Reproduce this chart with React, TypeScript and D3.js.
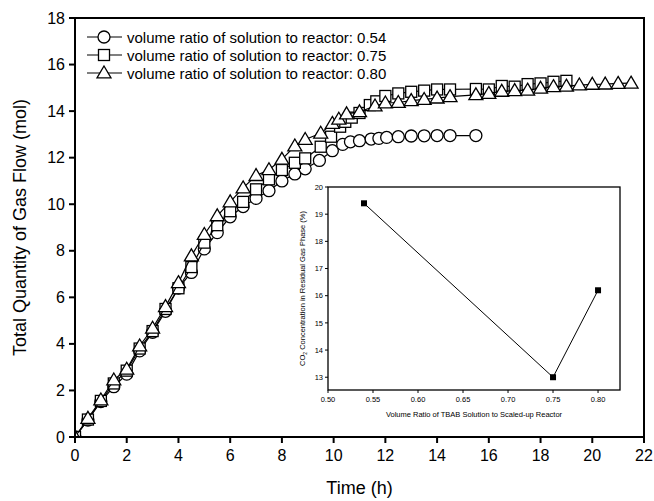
import React from "react";
import * as d3 from "d3";

// Series 0.54 (circles)
const tA = [0, 0.5, 1, 1.5, 2, 2.5, 3, 3.5, 4, 4.5, 5, 5.5, 6, 6.5, 7, 7.5, 8, 8.5, 8.9, 9.45, 9.95, 10.35, 10.65, 11.0, 11.45, 11.75, 12.05, 12.5, 13.0, 13.5, 14.0, 14.5, 15.5];
const vA = [0, 0.73, 1.52, 2.16, 2.7, 3.7, 4.5, 5.4, 6.4, 7.07, 8.08, 8.78, 9.46, 9.9, 10.25, 10.58, 11.0, 11.3, 11.52, 11.88, 12.3, 12.57, 12.68, 12.73, 12.8, 12.83, 12.87, 12.9, 12.93, 12.94, 12.95, 12.95, 12.95];

// Series 0.75 (squares)
const tB = [0, 0.5, 1, 1.5, 2, 2.5, 3, 3.5, 4, 4.5, 5, 5.5, 6, 6.5, 7, 7.5, 8, 8.5, 8.9, 9.5, 9.9, 10.25, 10.45, 10.7, 11.0, 11.4, 11.65, 12.0, 12.5, 13.0, 13.5, 14.0, 14.5, 15.5, 16.0, 16.5, 17.0, 17.5, 18.0, 18.5, 19.0];
const vB = [0, 0.75, 1.55, 2.3, 2.85, 3.8, 4.55, 5.5, 6.39, 7.3, 8.35, 9.1, 9.7, 10.1, 10.64, 11.07, 11.47, 11.78, 11.97, 12.47, 12.9, 13.33, 13.54, 13.72, 13.92, 14.26, 14.42, 14.65, 14.76, 14.83, 14.88, 14.93, 14.93, 14.95, 14.93, 15.08, 15.05, 15.16, 15.19, 15.26, 15.3];

// Series 0.80 (triangles)
const tC = [0, 0.5, 1, 1.5, 2, 2.5, 3, 3.5, 4, 4.5, 5, 5.5, 6, 6.5, 7, 7.5, 8, 8.5, 8.9, 9.5, 9.95, 10.2, 10.5, 11.0, 11.6, 12.0, 12.5, 13.0, 13.5, 14.0, 14.5, 15.5, 16.0, 16.5, 17.0, 17.5, 18.0, 18.5, 19.0, 19.5, 20.0, 20.5, 21.0, 21.5];
const vC = [0, 0.8, 1.59, 2.45, 2.91, 3.91, 4.67, 5.6, 6.63, 7.78, 8.7, 9.5, 10.1, 10.7, 11.23, 11.48, 11.93, 12.5, 12.78, 13.05, 13.47, 13.65, 13.88, 13.97, 14.22, 14.35, 14.37, 14.45, 14.5, 14.56, 14.62, 14.7, 14.76, 14.85, 14.88, 14.9, 14.98, 15.05, 15.07, 15.12, 15.15, 15.16, 15.19, 15.2];

const legendLabels = [
  "volume ratio of solution to reactor: 0.54",
  "volume ratio of solution to reactor: 0.75",
  "volume ratio of solution to reactor: 0.80",
];

const xTicks = [0, 2, 4, 6, 8, 10, 12, 14, 16, 18, 20, 22];
const yTicks = [0, 2, 4, 6, 8, 10, 12, 14, 16, 18];

// Inset
const insetX = [0.54, 0.75, 0.8];
const insetY = [19.4, 13.0, 16.2];
const insetXTicks = [0.5, 0.55, 0.6, 0.65, 0.7, 0.75, 0.8];
const insetYTicks = [13, 14, 15, 16, 17, 18, 19, 20];

const W = 654;
const H = 501;
const L = 75, R = 644, T = 18, B = 437;
const FONT = "Liberation Sans, Arial, Helvetica, sans-serif";

type Shape = "circle" | "square" | "triangle";

function Marker({ x, y, shape }: { x: number; y: number; shape: Shape }) {
  const st = { fill: "#fff", stroke: "#000", strokeWidth: 1.3 };
  if (shape === "circle") return <circle cx={x} cy={y} r={6} {...st} />;
  if (shape === "square") return <rect x={x - 5.5} y={y - 5.5} width={11} height={11} {...st} />;
  const s = 7;
  return <path d={`M${x},${y - s}L${x + s},${y + s * 0.7}L${x - s},${y + s * 0.7}Z`} {...st} />;
}

export default function App() {
  const x = d3.scaleLinear().domain([0, 22]).range([L, R]);
  const y = d3.scaleLinear().domain([0, 18]).range([B, T]);
  const line = d3.line<[number, number]>().x((d) => x(d[0])).y((d) => y(d[1]));

  const series: { t: number[]; v: number[]; shape: Shape }[] = [
    { t: tA, v: vA, shape: "circle" },
    { t: tB, v: vB, shape: "square" },
    { t: tC, v: vC, shape: "triangle" },
  ];

  // inset
  const iL = 328, iR = 620, iT = 187, iB = 390;
  const ix = d3.scaleLinear().domain([0.5, 0.8244]).range([iL, iR]);
  const iy = d3.scaleLinear().domain([12.53, 20]).range([iB, iT]);
  const iLine = d3.line<number>().x((_, i) => ix(insetX[i])).y((d) => iy(d));

  return (
    <svg width={W} height={H} style={{ position: "absolute", left: 0, top: 0, background: "#fff" }} fontFamily={FONT}>
      <defs>
        <clipPath id="plotclip">
          <rect x={L} y={T} width={R - L} height={B - T} />
        </clipPath>
      </defs>
      <rect x={0} y={0} width={W} height={H} fill="#fff" />
      {/* data */}
      <g clipPath="url(#plotclip)">
        {series.map((s, si) => (
          <g key={si}>
            <path d={line(s.t.map((t, i) => [t, s.v[i]] as [number, number])) || ""} fill="none" stroke="#000" strokeWidth={1.2} />
            {s.t.map((t, i) => (
              <Marker key={i} x={x(t)} y={y(s.v[i])} shape={s.shape} />
            ))}
          </g>
        ))}
      </g>
      {/* frame */}
      <rect x={L} y={T} width={R - L} height={B - T} fill="none" stroke="#000" strokeWidth={2} />
      {xTicks.map((t) => (
        <g key={t}>
          <line x1={x(t)} x2={x(t)} y1={B} y2={B + 6} stroke="#000" strokeWidth={2} />
          <text x={x(t)} y={B + 24} fontSize={16} textAnchor="middle">{t}</text>
        </g>
      ))}
      {yTicks.map((t) => (
        <g key={t}>
          <line x1={L - 6} x2={L} y1={y(t)} y2={y(t)} stroke="#000" strokeWidth={2} />
          <text x={L - 10} y={y(t) + 5.5} fontSize={16} textAnchor="end">{t}</text>
        </g>
      ))}
      <text x={(L + R) / 2} y={494} fontSize={18} textAnchor="middle">Time (h)</text>
      <text transform={`translate(26,${(T + B) / 2}) rotate(-90)`} fontSize={18} textAnchor="middle">
        Total Quantity of Gas Flow (mol)
      </text>
      {/* legend */}
      {legendLabels.map((lab, i) => {
        const ly = 37 + i * 18;
        return (
          <g key={i}>
            <line x1={87} x2={122} y1={ly} y2={ly} stroke="#000" strokeWidth={1.2} />
            <Marker x={104} y={ly} shape={series[i].shape} />
            <text x={127} y={ly + 5.5} fontSize={15}>{lab}</text>
          </g>
        );
      })}
      {/* inset */}
      <rect x={iL} y={iT} width={iR - iL} height={iB - iT} fill="#fff" stroke="#000" strokeWidth={1.3} />
      <path d={iLine(insetY) || ""} fill="none" stroke="#000" strokeWidth={1} />
      {insetY.map((v, i) => (
        <rect key={i} x={ix(insetX[i]) - 3} y={iy(v) - 3} width={6} height={6} fill="#000" />
      ))}
      {insetXTicks.map((t) => (
        <g key={t}>
          <line x1={ix(t)} x2={ix(t)} y1={iB} y2={iB + 3} stroke="#000" strokeWidth={1} />
          <text x={ix(t)} y={iB + 12} fontSize={7.5} textAnchor="middle">{t.toFixed(2)}</text>
        </g>
      ))}
      {insetYTicks.map((t) => (
        <g key={t}>
          <line x1={iL - 3} x2={iL} y1={iy(t)} y2={iy(t)} stroke="#000" strokeWidth={1} />
          <text x={iL - 5} y={iy(t) + 2.7} fontSize={7.5} textAnchor="end">{t}</text>
        </g>
      ))}
      <text x={(iL + iR) / 2} y={417} fontSize={7.5} textAnchor="middle">
        Volume Ratio of TBAB Solution to Scaled-up Reactor
      </text>
      <text transform={`translate(305,${(iT + iB) / 2}) rotate(-90)`} fontSize={7.5} textAnchor="middle">
        CO<tspan fontSize={5} dy={2}>2</tspan><tspan dy={-2}> Concentration in Residual Gas Phase (%)</tspan>
      </text>
    </svg>
  );
}
